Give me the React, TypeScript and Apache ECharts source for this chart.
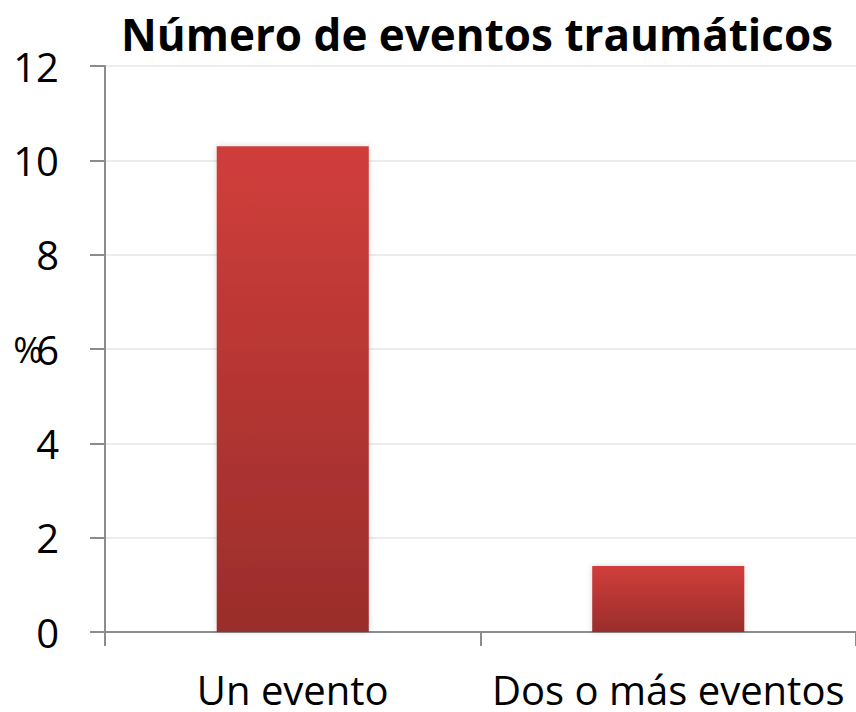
import React, { useEffect, useRef } from "react";
import * as echarts from "echarts";

const title = "Número de eventos traumáticos";
const categories = ["Un evento", "Dos o más eventos"];
const values = [10.3, 1.4];
const yTicks = { min: 0, max: 12, interval: 2 };
const yName = "%";

export default function App() {
  const ref = useRef<HTMLDivElement>(null);
  useEffect(() => {
    const chart = echarts.init(ref.current!, null, { renderer: "svg" });
    const font = "'Open Sans', sans-serif";
    chart.setOption({
      animation: false,
      backgroundColor: "#ffffff",
      title: {
        text: title,
        left: 472,
        textAlign: "center",
        top: 4,
        textStyle: { fontFamily: font, fontWeight: "bold", fontSize: 44, lineHeight: 50, color: "#000" },
      },
      grid: { left: 105, right: 0, top: 66, bottom: 80, containLabel: false, outerBoundsMode: "none" },
      xAxis: {
        type: "category",
        data: categories,
        axisLine: { lineStyle: { color: "#8c8c8c", width: 2 } },
        axisTick: { show: true, length: 14, lineStyle: { color: "#8c8c8c", width: 2 } },
        axisLabel: { fontFamily: font, fontSize: 40, lineHeight: 34, color: "#000", margin: 40, interval: 0 },
      },
      yAxis: {
        type: "value",
        min: yTicks.min,
        max: yTicks.max,
        interval: yTicks.interval,
        name: yName,
        nameLocation: "middle",
        nameRotate: 0,
        nameGap: 62,
        nameMoveOverlap: false,
        nameTextStyle: { fontFamily: font, fontSize: 36, color: "#000" },
        axisLine: { show: true, lineStyle: { color: "#8c8c8c", width: 2 } },
        axisTick: { show: true, length: 15, lineStyle: { color: "#8c8c8c", width: 2 } },
        axisLabel: { fontFamily: font, fontSize: 40, color: "#000", margin: 46 },
        splitLine: { lineStyle: { color: "#ececec", width: 2 } },
      },
      series: [
        {
          type: "bar",
          data: values,
          barWidth: "40.5%",
          itemStyle: {
            color: new echarts.graphic.LinearGradient(0, 0, 0, 1, [
              { offset: 0, color: "#d03e3b" },
              { offset: 1, color: "#9a2d2b" },
            ]),
            shadowColor: "rgba(0,0,0,0.15)",
            shadowBlur: 6,
          },
        },
      ],
    });
    return () => chart.dispose();
  }, []);
  return (
    <div
      ref={ref}
      style={{ position: "fixed", left: 0, top: 0, width: 856, height: 712 }}
    />
  );
}
